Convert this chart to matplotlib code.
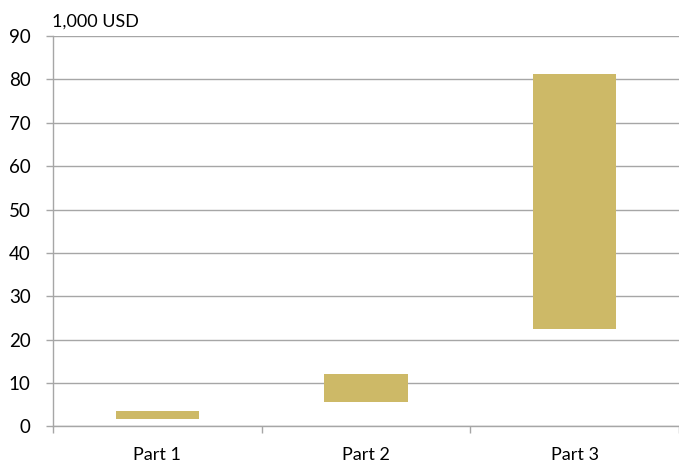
import numpy as np
import matplotlib.pyplot as plt

plt.rcParams['font.family'] = ['Lato', 'DejaVu Sans']

parts = ['Part 1', 'Part 2', 'Part 3']
low = [1.6, 5.7, 22.5]
high = [3.5, 12.0, 81.3]
yticks = [0, 10, 20, 30, 40, 50, 60, 70, 80, 90]

bar_color = '#CDB967'
grid_color = '#A6A6A6'

fig = plt.figure(figsize=(6.79, 4.63), dpi=100)
ax = fig.add_axes([0.078, 0.079, 0.922, 0.843])

x = np.arange(len(parts))
ax.bar(x, np.array(high) - np.array(low), bottom=low, width=0.4,
       color=bar_color, zorder=3)

ax.set_xlim(-0.5, len(parts) - 0.5)
ax.set_ylim(0, 90)
ax.set_yticks(yticks)
ax.yaxis.grid(True, color=grid_color, linewidth=1.0)
ax.set_axisbelow(True)

# category labels centred, ticks at the boundaries
ax.set_xticks(x)
ax.set_xticklabels(parts, fontsize=13)
ax.tick_params(axis='x', length=0, pad=15)
ax.set_xticks(np.arange(len(parts) + 1) - 0.5, minor=True)
ax.tick_params(axis='x', which='minor', length=5, color=grid_color, width=1)
ax.tick_params(axis='y', length=5, color=grid_color, width=1, pad=11, labelsize=13.5)

for s in ['top', 'right']:
    ax.spines[s].set_visible(False)
for s in ['left', 'bottom']:
    ax.spines[s].set_color(grid_color)
    ax.spines[s].set_linewidth(1.0)

fig.text(0.077, 0.953, '1,000 USD', fontsize=13, ha='left', va='center')

fig.savefig('out.png', dpi=100)
